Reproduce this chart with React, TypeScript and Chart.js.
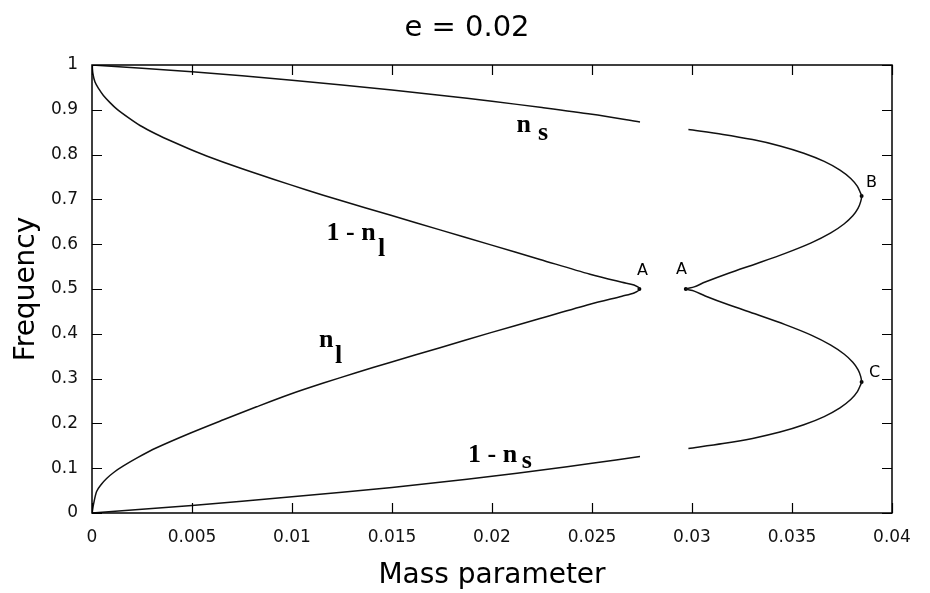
import React, { useEffect, useRef } from "react";
import { Chart, registerables } from "chart.js";

Chart.register(...registerables);

const chartTitle = "e = 0.02";
const xAxisTitle = "Mass parameter";
const yAxisTitle = "Frequency";

const xTickValues = [0, 0.005, 0.01, 0.015, 0.02, 0.025, 0.03, 0.035, 0.04];
const xTickLabels = ["0", "0.005", "0.01", "0.015", "0.02", "0.025", "0.03", "0.035", "0.04"];
const yTickValues = [0, 0.1, 0.2, 0.3, 0.4, 0.5, 0.6, 0.7, 0.8, 0.9, 1];
const yTickLabels = ["0", "0.1", "0.2", "0.3", "0.4", "0.5", "0.6", "0.7", "0.8", "0.9", "1"];

// n_s (upper left branch)
const nsX = [0, 0.005, 0.01, 0.015, 0.0175, 0.02, 0.0225, 0.025, 0.0274];
const nsY = [1, 0.985, 0.966, 0.944, 0.932, 0.919, 0.905, 0.89, 0.873];

// 1 - n_s (lower left branch)
const oneMinusNsX = [0, 0.005, 0.01, 0.015, 0.0175, 0.02, 0.0225, 0.025, 0.0274];
const oneMinusNsY = [0, 0.017, 0.036, 0.057, 0.069, 0.082, 0.096, 0.111, 0.126];

// 1 - n_l (from (0,1) down to fold A)
const oneMinusNlX = [0, 0.00004, 0.00015, 0.00035, 0.00057, 0.0009, 0.00123, 0.0018, 0.0024, 0.0032, 0.00407, 0.0049, 0.00573, 0.0074, 0.00907, 0.01073, 0.0124, 0.0149, 0.0174, 0.0199, 0.0224, 0.0249, 0.0265, 0.0271, 0.02737];
const oneMinusNlY = [1, 0.982, 0.962, 0.946, 0.932, 0.916, 0.902, 0.883, 0.865, 0.846, 0.828, 0.812, 0.797, 0.77, 0.745, 0.721, 0.698, 0.665, 0.632, 0.599, 0.566, 0.533, 0.515, 0.509, 0.5];

// n_l (from (0,0) up to fold A)
const nlX = [0, 0.00007, 0.00023, 0.00045, 0.00073, 0.0011, 0.00157, 0.0023, 0.0032, 0.0049, 0.00657, 0.00823, 0.0099, 0.01157, 0.0132, 0.0149, 0.0174, 0.0199, 0.0224, 0.0249, 0.0265, 0.0271, 0.02737];
const nlY = [0, 0.018, 0.048, 0.063, 0.077, 0.091, 0.105, 0.124, 0.145, 0.178, 0.208, 0.237, 0.265, 0.29, 0.313, 0.336, 0.369, 0.402, 0.434, 0.466, 0.484, 0.491, 0.5];

// right branch: n_s -> B -> A -> C -> 1 - n_s
const rightX = [
  0.02982, 0.03155, 0.03303, 0.0344, 0.03559, 0.03661, 0.0374, 0.03795, 0.03827, 0.03842, 0.03848,
  0.03843, 0.0383, 0.03804, 0.0376, 0.03694, 0.03596, 0.03466, 0.03325, 0.03183, 0.03066, 0.03011,
  0.02969,
  0.03011, 0.03066, 0.03183, 0.03325, 0.03466, 0.03596, 0.03694, 0.0376, 0.03804, 0.0383, 0.03843,
  0.03848,
  0.03842, 0.03827, 0.03795, 0.0374, 0.03661, 0.03559, 0.0344, 0.03303, 0.03155, 0.02982,
];
const rightY = [
  0.856, 0.8451, 0.8335, 0.8194, 0.8031, 0.7848, 0.7654, 0.7462, 0.729, 0.715, 0.7076,
  0.6944, 0.6799, 0.6634, 0.6451, 0.6252, 0.6029, 0.5795, 0.5571, 0.5353, 0.5156, 0.5047,
  0.5,
  0.4953, 0.4844, 0.4647, 0.4429, 0.4205, 0.3971, 0.3748, 0.3549, 0.3366, 0.3201, 0.3056,
  0.2924,
  0.285, 0.271, 0.2538, 0.2346, 0.2152, 0.1969, 0.1806, 0.1665, 0.1549, 0.144,
];

// special points A, A, B, C
const markX = [0.02737, 0.02969, 0.03848, 0.03848];
const markY = [0.5, 0.5, 0.7076, 0.2924];

// text notes: text, left x, baseline y, kind
const noteText = ["n", "s", "1 - n", "l", "n", "l", "1 - n", "s", "A", "A", "B", "C"];
const noteX = [0.02123, 0.0223, 0.01173, 0.0143, 0.01135, 0.01215, 0.0188, 0.02149, 0.02725, 0.0292, 0.0387, 0.03885];
const noteY = [0.851, 0.8326, 0.609, 0.5737, 0.3712, 0.334, 0.1145, 0.1004, 0.531, 0.5335, 0.7277, 0.3036];
const noteKind = ["main", "sub", "main", "sub", "main", "sub", "main", "sub", "sans", "sans", "sans", "sans"];

const toPts = (xs: number[], ys: number[]) => xs.map((x, i) => ({ x, y: ys[i] }));

const framePlugin = {
  id: "frame",
  afterDatasetsDraw(chart: any) {
    const { ctx, scales } = chart;
    const xs = scales.x;
    const ys = scales.y;
    ctx.save();
    ctx.fillStyle = "#000";
    ctx.textBaseline = "alphabetic";
    ctx.textAlign = "left";
    noteText.forEach((t, i) => {
      const kind = noteKind[i];
      if (kind === "main") ctx.font = "bold 26px 'Liberation Serif', 'DejaVu Serif', serif";
      else if (kind === "sub") ctx.font = "bold 26px 'Liberation Serif', 'DejaVu Serif', serif";
      else ctx.font = "16px 'DejaVu Sans', sans-serif";
      ctx.fillText(t, xs.getPixelForValue(noteX[i]), ys.getPixelForValue(noteY[i]));
    });
    ctx.restore();
  },
  afterDraw(chart: any) {
    const { ctx, chartArea, scales } = chart;
    const { left, right, top, bottom } = chartArea;
    const tick = 10;
    ctx.save();
    ctx.strokeStyle = "#000";
    ctx.lineWidth = 1.5;
    ctx.strokeRect(left, top, right - left, bottom - top);
    ctx.beginPath();
    xTickValues.forEach((v) => {
      const px = Math.round(scales.x.getPixelForValue(v)) + 0.5;
      ctx.moveTo(px, bottom);
      ctx.lineTo(px, bottom - tick);
      ctx.moveTo(px, top);
      ctx.lineTo(px, top + tick);
    });
    yTickValues.forEach((v) => {
      const py = Math.round(scales.y.getPixelForValue(v)) + 0.5;
      ctx.moveTo(left, py);
      ctx.lineTo(left + tick, py);
      ctx.moveTo(right, py);
      ctx.lineTo(right - tick, py);
    });
    ctx.lineWidth = 1.2;
    ctx.stroke();

    ctx.fillStyle = "#000";
    ctx.textAlign = "center";
    ctx.textBaseline = "alphabetic";
    ctx.font = "29px 'DejaVu Sans', sans-serif";
    ctx.fillText(chartTitle, 467, 36);
    ctx.font = "28px 'DejaVu Sans', sans-serif";
    ctx.fillText(xAxisTitle, (left + right) / 2, 583);
    ctx.translate(34, (top + bottom) / 2);
    ctx.rotate(-Math.PI / 2);
    ctx.fillText(yAxisTitle, 0, 0);
    ctx.restore();
  },
};

export default function App() {
  const ref = useRef<HTMLCanvasElement | null>(null);

  useEffect(() => {
    if (!ref.current) return;
    const lineStyle = {
      showLine: true,
      borderColor: "#111",
      borderWidth: 1.5,
      pointRadius: 0,
      pointHoverRadius: 0,
      tension: 0.3,
      fill: false,
    };
    const foldPts = toPts(oneMinusNlX, oneMinusNlY).concat(toPts(nlX, nlY).reverse().slice(1));
    const chart = new Chart(ref.current, {
      type: "scatter",
      data: {
        datasets: [
          { label: "n_s", data: toPts(nsX, nsY), ...lineStyle },
          { label: "1 - n_s", data: toPts(oneMinusNsX, oneMinusNsY), ...lineStyle },
          { label: "1 - n_l / n_l", data: foldPts, ...lineStyle },
          { label: "right branch", data: toPts(rightX, rightY), ...lineStyle },
          {
            label: "points",
            data: toPts(markX, markY),
            showLine: false,
            pointRadius: 2,
            pointBackgroundColor: "#000",
            pointBorderColor: "#000",
            pointBorderWidth: 0,
          },
        ],
      },
      options: {
        responsive: false,
        animation: false,
        devicePixelRatio: 1,
        layout: { padding: { left: 0, right: 38, top: 65, bottom: 0 } },
        plugins: {
          legend: { display: false },
          title: { display: false },
          tooltip: { enabled: false },
        },
        events: [],
        scales: {
          x: {
            type: "linear",
            min: 0,
            max: 0.04,
            grid: { display: false, drawTicks: false },
            border: { display: false },
            afterBuildTicks: (s: any) => {
              s.ticks = xTickValues.map((v) => ({ value: v }));
            },
            afterFit: (s: any) => {
              s.height = 80;
            },
            ticks: {
              autoSkip: false,
              maxRotation: 0,
              padding: 14,
              color: "#111",
              font: { family: "'DejaVu Sans', sans-serif", size: 17 },
              callback: (_v: any, i: number) => xTickLabels[i],
            },
          },
          y: {
            type: "linear",
            min: 0,
            max: 1,
            grid: { display: false, drawTicks: false },
            border: { display: false },
            afterBuildTicks: (s: any) => {
              s.ticks = yTickValues.map((v) => ({ value: v }));
            },
            afterFit: (s: any) => {
              s.width = 92;
            },
            ticks: {
              autoSkip: false,
              padding: 14,
              color: "#111",
              font: { family: "'DejaVu Sans', sans-serif", size: 17 },
              callback: (_v: any, i: number) => yTickLabels[i],
            },
          },
        },
      },
      plugins: [framePlugin],
    });
    return () => chart.destroy();
  }, []);

  return (
    <div style={{ position: "absolute", left: 0, top: 0, width: 930, height: 593, background: "#fff" }}>
      <canvas ref={ref} width={930} height={593} style={{ width: 930, height: 593 }} />
    </div>
  );
}
